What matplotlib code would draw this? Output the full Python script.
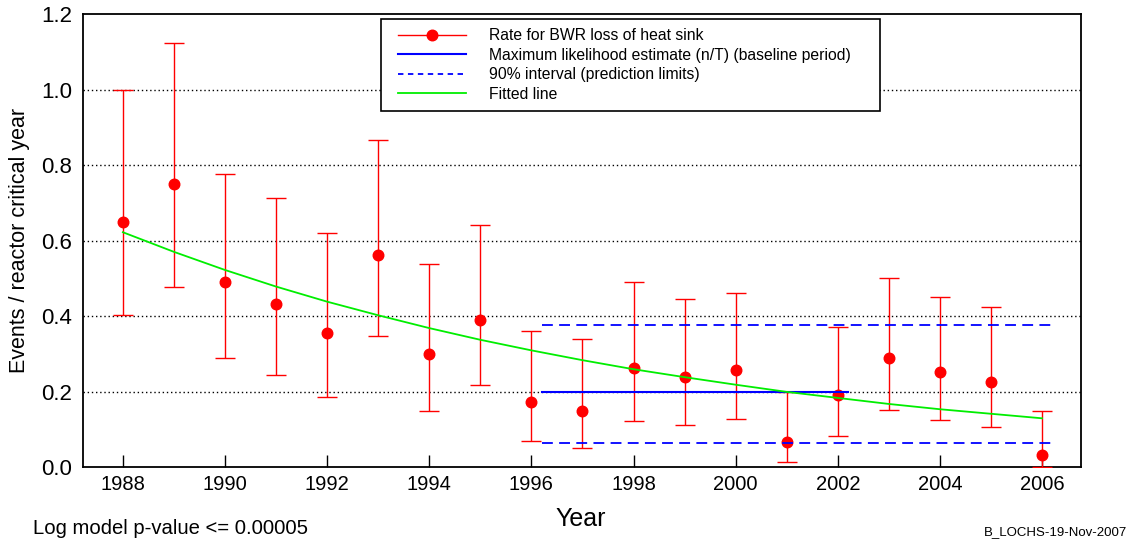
import matplotlib
matplotlib.use("Agg")
import matplotlib.pyplot as plt
from matplotlib.lines import Line2D
from matplotlib.legend_handler import HandlerLine2D

plt.rcParams['font.family'] = ['Liberation Sans', 'DejaVu Sans']

years = [1988, 1989, 1990, 1991, 1992, 1993, 1994, 1995, 1996, 1997,
         1998, 1999, 2000, 2001, 2002, 2003, 2004, 2005, 2006]
rate = [0.649, 0.750, 0.490, 0.432, 0.355, 0.562, 0.299, 0.389, 0.172, 0.148,
        0.261, 0.238, 0.256, 0.065, 0.190, 0.290, 0.251, 0.226, 0.033]
upper = [1.000, 1.123, 0.776, 0.713, 0.620, 0.866, 0.538, 0.641, 0.360, 0.338,
         0.491, 0.446, 0.461, 0.199, 0.371, 0.502, 0.450, 0.424, 0.148]
lower = [0.403, 0.477, 0.289, 0.244, 0.185, 0.347, 0.148, 0.217, 0.069, 0.051,
         0.123, 0.111, 0.128, 0.012, 0.082, 0.151, 0.125, 0.107, 0.000]
fitted = [0.622, 0.570, 0.522, 0.478, 0.438, 0.402, 0.368, 0.337, 0.309, 0.283,
          0.259, 0.238, 0.218, 0.199, 0.183, 0.167, 0.153, 0.141, 0.129]

mle_value = 0.199
mle_span = [1996.2, 2002.2]
pred_upper = 0.376
pred_lower = 0.064
pred_span = [1996.2, 2006.2]

xticks = [1988, 1990, 1992, 1994, 1996, 1998, 2000, 2002, 2004, 2006]
yticks = [0.0, 0.2, 0.4, 0.6, 0.8, 1.0, 1.2]
grid_levels = [0.2, 0.4, 0.6, 0.8, 1.0]

GREEN = '#00ee00'


class PadHandler(HandlerLine2D):
    def __init__(self, pad=5.8, **kw):
        super().__init__(**kw)
        self.pad = pad

    def create_artists(self, legend, orig_handle, xdescent, ydescent, width,
                       height, fontsize, trans):
        return super().create_artists(legend, orig_handle, xdescent - self.pad,
                                      ydescent, width - self.pad, height,
                                      fontsize, trans)


fig = plt.figure(figsize=(11.33, 5.42), dpi=100)
ax = fig.add_axes([0.0733, 0.1384, 0.8807, 0.8356])

for g in grid_levels:
    ax.axhline(g, color='black', linestyle=(0, (1, 2)), linewidth=1.0, zorder=1)

yerr = [[r - l for r, l in zip(rate, lower)], [u - r for r, u in zip(rate, upper)]]
ax.errorbar(years, rate, yerr=yerr, fmt='o', color='red', ecolor='red',
            markersize=7.6, elinewidth=1.0, capsize=7.5, capthick=1.0, zorder=3)

ax.plot(mle_span, [mle_value, mle_value], color='blue', linewidth=1.5, zorder=4)
ax.plot(pred_span, [pred_upper, pred_upper], color='blue', linewidth=1.3,
        linestyle=(0, (6, 3.5)), zorder=4)
ax.plot(pred_span, [pred_lower, pred_lower], color='blue', linewidth=1.3,
        linestyle=(0, (6, 3.5)), zorder=4)
ax.plot(years, fitted, color=GREEN, linewidth=1.3, zorder=5)

ax.set_xlim(1987.22, 2006.76)
ax.set_ylim(0, 1.2)
ax.set_xticks(xticks)
ax.set_xticklabels([str(x) for x in xticks], fontsize=14.5)
ax.set_yticks(yticks)
ax.set_yticklabels(['%.1f' % y for y in yticks], fontsize=16)
ax.tick_params(axis='x', direction='in', length=9, width=1, pad=6)
ax.tick_params(axis='y', length=0, pad=8)
for s in ax.spines.values():
    s.set_linewidth(1.3)

ax.set_ylabel('Events / reactor critical year', fontsize=15.5, labelpad=8)
fig.text(0.513, 0.03, 'Year', fontsize=18, ha='center', va='baseline')
fig.text(0.029, 0.014, 'Log model p-value <= 0.00005', fontsize=14.6, ha='left', va='baseline')
fig.text(0.995, 0.012, 'B_LOCHS-19-Nov-2007', fontsize=9.5, ha='right', va='baseline')

handles = [
    Line2D([], [], color='red', marker='o', markersize=7.6, linewidth=1.0),
    Line2D([], [], color='blue', linewidth=1.5),
    Line2D([], [], color='blue', linewidth=1.3, linestyle=(0, (3, 2.5))),
    Line2D([], [], color=GREEN, linewidth=1.3),
]
labels = ['Rate for BWR loss of heat sink',
          'Maximum likelihood estimate (n/T) (baseline period)',
          '90% interval (prediction limits)',
          'Fitted line']
leg = ax.legend(handles, labels, loc='upper left',
                bbox_to_anchor=(0.2986, 0.788, 0.5, 0.201), mode='expand',
                fontsize=11.3, frameon=True, fancybox=False, framealpha=1,
                edgecolor='black', handlelength=4.8, handletextpad=1.45,
                labelspacing=0.28, borderpad=0.6, borderaxespad=0,
                handler_map={Line2D: PadHandler(pad=5.8)})
leg.get_frame().set_linewidth(1.2)
leg.set_zorder(10)

fig.savefig('out.png', dpi=100)
